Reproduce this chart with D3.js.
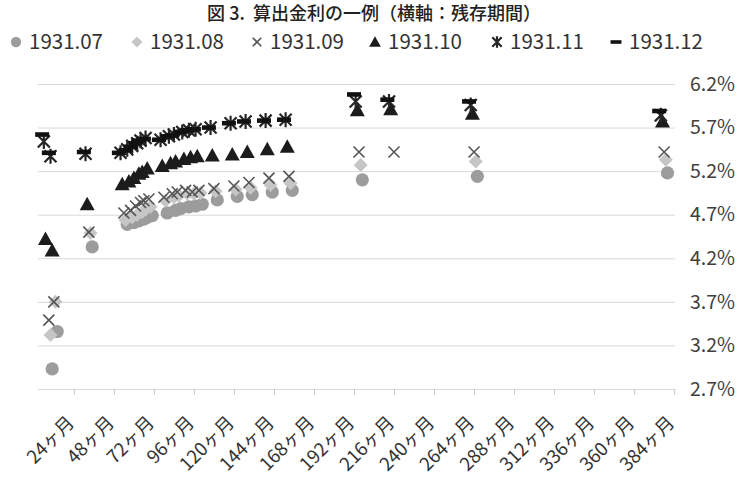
<!DOCTYPE html>
<html>
<head>
<meta charset="utf-8">
<script src="https://cdn.jsdelivr.net/npm/d3@7"></script>
<style>
  html, body { margin: 0; padding: 0; background: #fff; }
  svg { display: block; }
  text { font-family: "Noto Sans CJK JP", "Noto Sans", sans-serif; }
</style>
</head>
<body>
<svg id="chart" width="748" height="480"></svg>
<script>
// 残存期間（ヶ月）と算出金利（%）— 観測月ごと
const seriesNames = ["1931.07", "1931.08", "1931.09", "1931.10", "1931.11", "1931.12"];

const months0731 = [11, 14, 35, 56, 60, 63, 66, 68, 71, 80, 85, 88, 93, 97, 101, 110, 122, 131, 143, 155, 197, 266, 380];
const rates0731  = [2.93, 3.36, 4.33, 4.59, 4.61, 4.63, 4.65, 4.67, 4.69, 4.72, 4.75, 4.77, 4.79, 4.80, 4.82, 4.87, 4.91, 4.93, 4.96, 4.98, 5.10, 5.14, 5.18];

const months0831 = [10, 13, 34, 55, 59, 62, 65, 67, 70, 79, 84, 87, 92, 96, 100, 109, 121, 130, 142, 154, 196, 265, 379];
const rates0831  = [3.32, 3.70, 4.49, 4.64, 4.67, 4.70, 4.73, 4.76, 4.79, 4.86, 4.90, 4.92, 4.94, 4.94, 4.95, 4.97, 4.99, 5.01, 5.04, 5.06, 5.27, 5.31, 5.33];

const months0931 = [9, 12, 33, 54, 58, 61, 64, 66, 69, 78, 83, 86, 91, 95, 99, 108, 120, 129, 141, 153, 195, 216, 264, 378];
const rates0931  = [3.49, 3.70, 4.50, 4.72, 4.75, 4.80, 4.84, 4.86, 4.88, 4.90, 4.94, 4.96, 4.98, 4.96, 4.98, 5.00, 5.03, 5.07, 5.12, 5.14, 5.42, 5.42, 5.42, 5.42];

const months1031 = [7, 11, 32, 53, 57, 60, 63, 65, 68, 77, 82, 85, 90, 94, 98, 107, 119, 128, 140, 152, 194, 214, 263, 377];
const rates1031  = [4.42, 4.29, 4.82, 5.05, 5.08, 5.12, 5.17, 5.19, 5.23, 5.26, 5.29, 5.31, 5.34, 5.36, 5.37, 5.38, 5.39, 5.42, 5.45, 5.48, 5.90, 5.91, 5.86, 5.77];

const months1131 = [6, 10, 31, 52, 56, 59, 62, 64, 67, 76, 81, 84, 89, 93, 97, 106, 118, 127, 139, 151, 193, 213, 262, 376];
const rates1131  = [5.54, 5.37, 5.40, 5.41, 5.45, 5.49, 5.52, 5.55, 5.58, 5.56, 5.60, 5.62, 5.65, 5.67, 5.68, 5.70, 5.75, 5.77, 5.78, 5.79, 6.00, 6.00, 5.96, 5.84];

const months1231 = [5, 9, 30, 51, 55, 58, 61, 63, 66, 75, 80, 83, 88, 92, 96, 105, 117, 126, 138, 150, 192, 212, 261, 375];
const rates1231  = [5.62, 5.41, 5.42, 5.41, 5.44, 5.48, 5.52, 5.55, 5.57, 5.56, 5.60, 5.61, 5.65, 5.67, 5.68, 5.70, 5.75, 5.77, 5.78, 5.79, 6.08, 6.02, 6.00, 5.89];

const xTickMonths = [24, 48, 72, 96, 120, 144, 168, 192, 216, 240, 264, 288, 312, 336, 360, 384];
const yTickValues = [2.7, 3.2, 3.7, 4.2, 4.7, 5.2, 5.7, 6.2];

const titleText = "図 3.\u00a0\u00a0算出金利の一例（横軸：残存期間）";

const seriesMonths = [months0731, months0831, months0931, months1031, months1131, months1231];
const seriesRates  = [rates0731, rates0831, rates0931, rates1031, rates1131, rates1231];
const series = seriesNames.map((name, i) => ({
  name,
  points: seriesMonths[i].map((m, j) => ({ m, r: seriesRates[i][j] }))
}));

// ---- layout ----
const svg = d3.select("#chart");
const plot = { left: 38, right: 675, top: 84, bottom: 389 };

const x = d3.scaleLinear().domain([2.5, 384.5]).range([plot.left, plot.right]);
const y = d3.scaleLinear().domain([2.7, 6.2]).range([plot.bottom, plot.top]);

// ---- marker shapes ----
const markers = [
  // circle
  (g, s) => g.append("circle").attr("r", 6.6 * s).attr("fill", "#9c9c9c"),
  // diamond
  (g, s) => g.append("path").attr("d", `M0,${-7*s}L${7*s},0L0,${7*s}L${-7*s},0Z`).attr("fill", "#c6c6c6"),
  // cross
  (g, s) => g.append("path")
      .attr("d", `M${-5.5*s},${-5.5*s}L${5.5*s},${5.5*s}M${-5.5*s},${5.5*s}L${5.5*s},${-5.5*s}`)
      .attr("stroke", "#555").attr("stroke-width", 1.6).attr("fill", "none"),
  // triangle
  (g, s) => g.append("path").attr("d", `M0,${-7.5*s}L${7.5*s},${6*s}L${-7.5*s},${6*s}Z`).attr("fill", "#1c1c1c"),
  // asterisk
  (g, s) => g.append("path")
      .attr("d", `M${-6*s},${-6*s}L${6*s},${6*s}M${-6*s},${6*s}L${6*s},${-6*s}M0,${-7.5*s}L0,${7.5*s}`)
      .attr("stroke", "#262626").attr("stroke-width", 2.2).attr("fill", "none"),
  // dash
  (g, s) => g.append("rect").attr("x", -7*s).attr("y", -2.3*s).attr("width", 14*s).attr("height", 4.6*s).attr("fill", "#111")
];

// ---- title ----
svg.append("text")
  .attr("x", 374).attr("y", 20)
  .attr("text-anchor", "middle")
  .attr("font-size", 18)
  .attr("font-weight", 500)
  .attr("fill", "#222")
  .text(titleText);

// ---- legend ----
const legendMarkerX = [16, 137, 257, 375, 497, 616];
const legend = svg.append("g").attr("class", "legend");
series.forEach((s, i) => {
  const g = legend.append("g").attr("transform", `translate(${legendMarkerX[i]},42)`);
  markers[i](g.append("g"), 0.78);
  g.append("text")
    .attr("x", 13).attr("y", 0).attr("dy", "0.36em")
    .attr("font-size", 20.5)
    .attr("fill", "#333")
    .text(s.name);
});

// ---- gridlines and right-hand value labels ----
const yAxis = svg.append("g")
  .attr("transform", `translate(${plot.left},0)`)
  .call(d3.axisRight(y)
    .tickValues(yTickValues)
    .tickSize(plot.right - plot.left)
    .tickPadding(15)
    .tickFormat(d => d.toFixed(1) + "%"));
yAxis.select(".domain").remove();
yAxis.selectAll(".tick line").attr("stroke", "#d9d9d9").attr("stroke-width", 1);
yAxis.selectAll(".tick text")
  .attr("font-size", 19.5)
  .attr("fill", "#404040")
  .style("font-family", "'Noto Sans CJK JP', 'Noto Sans', sans-serif");

// ---- bottom category axis ----
const xAxis = svg.append("g")
  .attr("transform", `translate(0,${plot.bottom})`)
  .call(d3.axisBottom(x)
    .tickValues(xTickMonths)
    .tickSize(6)
    .tickSizeOuter(0)
    .tickFormat(d => d + "ヶ月"));
xAxis.select(".domain").attr("stroke", "#d9d9d9");
xAxis.selectAll(".tick line").attr("stroke", "#c8c8c8");
xAxis.selectAll(".tick text")
  .attr("x", 0).attr("y", 0).attr("dy", 0)
  .attr("transform", "translate(1,35) rotate(-45)")
  .attr("text-anchor", "end")
  .attr("font-size", 18.5)
  .attr("fill", "#333")
  .style("font-family", "'Noto Sans CJK JP', sans-serif");

// ---- points ----
const pointsLayer = svg.append("g").attr("class", "points");
series.forEach((s, i) => {
  const g = pointsLayer.append("g").attr("class", "series-" + i);
  s.points.forEach(p => {
    const pg = g.append("g").attr("transform", `translate(${x(p.m)},${y(p.r)})`);
    markers[i](pg, 1);
  });
});
</script>
</body>
</html>
